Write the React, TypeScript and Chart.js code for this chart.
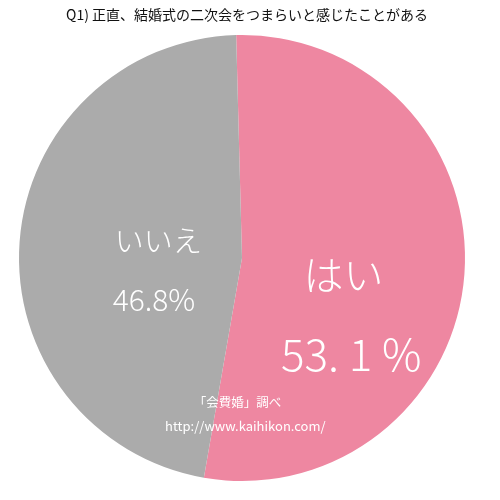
import React, { useEffect, useRef } from "react";
import { Chart, registerables } from "chart.js";

Chart.register(...registerables);

const titleText = "Q1) 正直、結婚式の二次会をつまらいと感じたことがある";
const categories = ["はい", "いいえ"];
const values = [53.1, 46.8];
const valueLabels = ["53. 1 %", "46.8%"];
const colors = ["#EE87A1", "#ABABAB"];
const sourceLines = ["「会費婚」調べ", "http://www.kaihikon.com/"];

const JP = '"Noto Sans CJK JP", "Noto Sans", sans-serif';

export default function App() {
  const ref = useRef<HTMLCanvasElement | null>(null);

  useEffect(() => {
    document.body.style.margin = "0";
    const canvas = ref.current;
    if (!canvas) return;

    const textPlugin = {
      id: "textPlugin",
      afterDraw(chart: any) {
        const ctx = chart.ctx as CanvasRenderingContext2D;
        const meta = chart.getDatasetMeta(0);
        const arc0 = meta.data[0] as any;
        const cx = arc0.x;
        const cy = arc0.y;
        const r = arc0.outerRadius;
        ctx.save();
        ctx.textAlign = "center";
        ctx.textBaseline = "middle";
        ctx.fillStyle = "#111";
        ctx.font = `400 14px ${JP}`;
        ctx.fillText(titleText, 247, 15);

        ctx.fillStyle = "#ffffff";
        // はい
        ctx.font = `300 40px ${JP}`;
        ctx.fillText(categories[0], cx + r * 0.455, cy + r * 0.075);
        ctx.font = `300 44px ${JP}`;
        ctx.fillText(valueLabels[0], cx + r * 0.49, cy + r * 0.43);
        // いいえ
        ctx.font = `300 29px ${JP}`;
        ctx.fillText(categories[1], cx - r * 0.375, cy - r * 0.075);
        ctx.font = `300 30px ${JP}`;
        ctx.fillText(valueLabels[1], cx - r * 0.395, cy + r * 0.185);
        // source
        ctx.font = `400 12.5px ${JP}`;
        ctx.fillText(sourceLines[0], cx - r * 0.02, cy + r * 0.645);
        ctx.font = `400 13px ${JP}`;
        ctx.fillText(sourceLines[1], cx + r * 0.015, cy + r * 0.755);
        ctx.restore();
      },
    };

    const chart = new Chart(canvas, {
      type: "pie",
      data: {
        labels: categories,
        datasets: [
          {
            data: values,
            backgroundColor: colors,
            borderWidth: 0,
          },
        ],
      },
      options: {
        animation: false,
        responsive: false,
        rotation: -1.5,
        layout: { padding: { left: 19, right: 35, top: 35, bottom: 19 } },
        plugins: {
          legend: { display: false },
          title: { display: false },
          tooltip: { enabled: false },
        },
      },
      plugins: [textPlugin],
    });
    return () => chart.destroy();
  }, []);

  return (
    <div style={{ position: "absolute", left: 0, top: 0, width: 500, height: 500, background: "#fff" }}>
      <canvas ref={ref} width={500} height={500} style={{ width: 500, height: 500 }} />
    </div>
  );
}
